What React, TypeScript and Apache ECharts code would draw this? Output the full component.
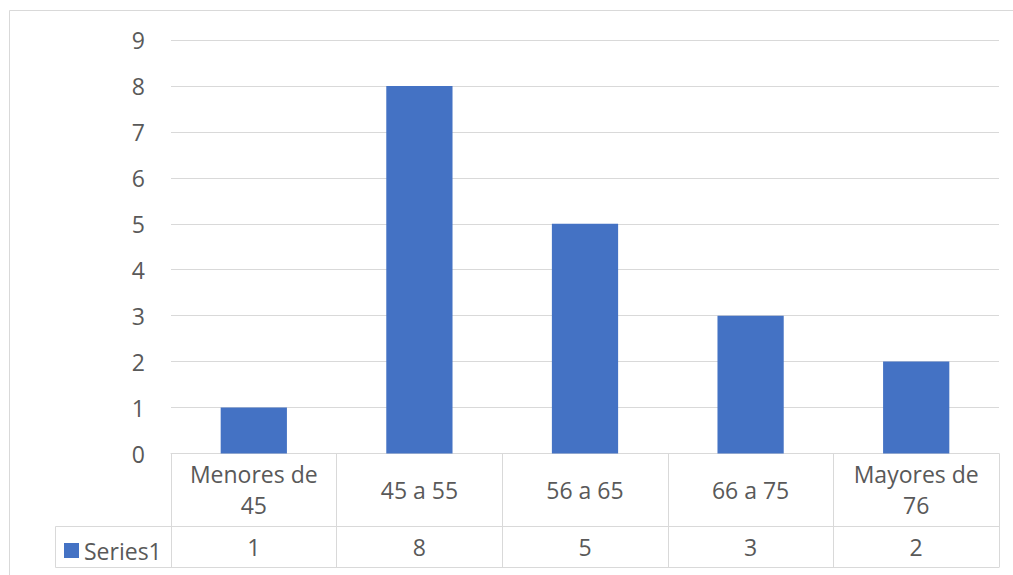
import React, { useEffect, useRef } from "react";
import * as echarts from "echarts";

const categories = ["Menores de\n45", "45 a 55", "56 a 65", "66 a 75", "Mayores de\n76"];
const seriesName = "Series1";
const values = [1, 8, 5, 3, 2];
const yTicks = { min: 0, max: 9, interval: 1 };

const TEXT = "#595959";
const LINE = "#d9d9d9";
const BAR = "#4472C4";
const FONT = "Open Sans";
const FS = 23;

export default function App() {
  const ref = useRef<HTMLDivElement>(null);
  useEffect(() => {
    if (!ref.current) return;
    const chart = echarts.init(ref.current, undefined, { renderer: "svg" });
    const gridLeft = 171;
    const gridRight = 999;
    const axisY = 453.5;
    const rowTop = 526.5;
    const rowBottom = 567.5;
    const tableLeft = 55.5;
    chart.setOption({
      animation: false,
      backgroundColor: "#ffffff",
      textStyle: { fontFamily: FONT },
      grid: { left: gridLeft, right: 1013 - gridRight, top: 40, bottom: 575 - axisY },
      legend: {
        show: true,
        left: 64,
        top: 539,
        padding: 0,
        icon: "rect",
        itemWidth: 15,
        itemHeight: 15,
        textStyle: { color: TEXT, fontSize: FS, fontFamily: FONT },
        data: [seriesName],
      },
      xAxis: [
        {
          type: "category",
          data: categories,
          position: "bottom",
          axisLine: { show: true, lineStyle: { color: LINE, width: 1 } },
          axisTick: { show: true, interval: 0, length: rowBottom - axisY, lineStyle: { color: LINE, width: 1 } },
          axisLabel: {
            interval: 0,
            color: TEXT,
            fontSize: FS,
            fontFamily: FONT,
            lineHeight: 31,
            margin: 36,
            verticalAlign: "middle",
            align: "center",
          },
        },
        {
          type: "category",
          data: categories,
          position: "bottom",
          axisLine: { show: false },
          axisTick: { show: false },
          axisLabel: {
            interval: 0,
            color: TEXT,
            fontSize: FS,
            fontFamily: FONT,
            margin: 93,
            verticalAlign: "middle",
            formatter: (_v: string, i: number) => String(values[i]),
          },
        },
      ],
      yAxis: {
        type: "value",
        min: yTicks.min,
        max: yTicks.max,
        interval: yTicks.interval,
        axisLine: { show: false },
        axisTick: { show: false },
        axisLabel: { color: TEXT, fontSize: FS, fontFamily: FONT, margin: 26 },
        splitLine: { lineStyle: { color: LINE, width: 1 } },
      },
      series: [
        {
          name: seriesName,
          type: "bar",
          data: values,
          barWidth: "40%",
          itemStyle: { color: BAR },
        },
      ],
      graphic: [
        { type: "line", shape: { x1: 9.5, y1: 10.5, x2: 1013, y2: 10.5 }, style: { stroke: LINE, lineWidth: 1 } },
        { type: "line", shape: { x1: 9.5, y1: 10.5, x2: 9.5, y2: 575 }, style: { stroke: LINE, lineWidth: 1 } },
        { type: "line", shape: { x1: tableLeft, y1: rowTop, x2: gridRight, y2: rowTop }, style: { stroke: LINE, lineWidth: 1 } },
        { type: "line", shape: { x1: tableLeft, y1: rowBottom, x2: gridRight, y2: rowBottom }, style: { stroke: LINE, lineWidth: 1 } },
        { type: "line", shape: { x1: tableLeft, y1: rowTop, x2: tableLeft, y2: rowBottom }, style: { stroke: LINE, lineWidth: 1 } },
      ],
    });
    return () => chart.dispose();
  }, []);
  return (
    <div
      ref={ref}
      style={{ position: "fixed", left: 0, top: 0, width: 1013, height: 575, background: "#fff" }}
    />
  );
}
